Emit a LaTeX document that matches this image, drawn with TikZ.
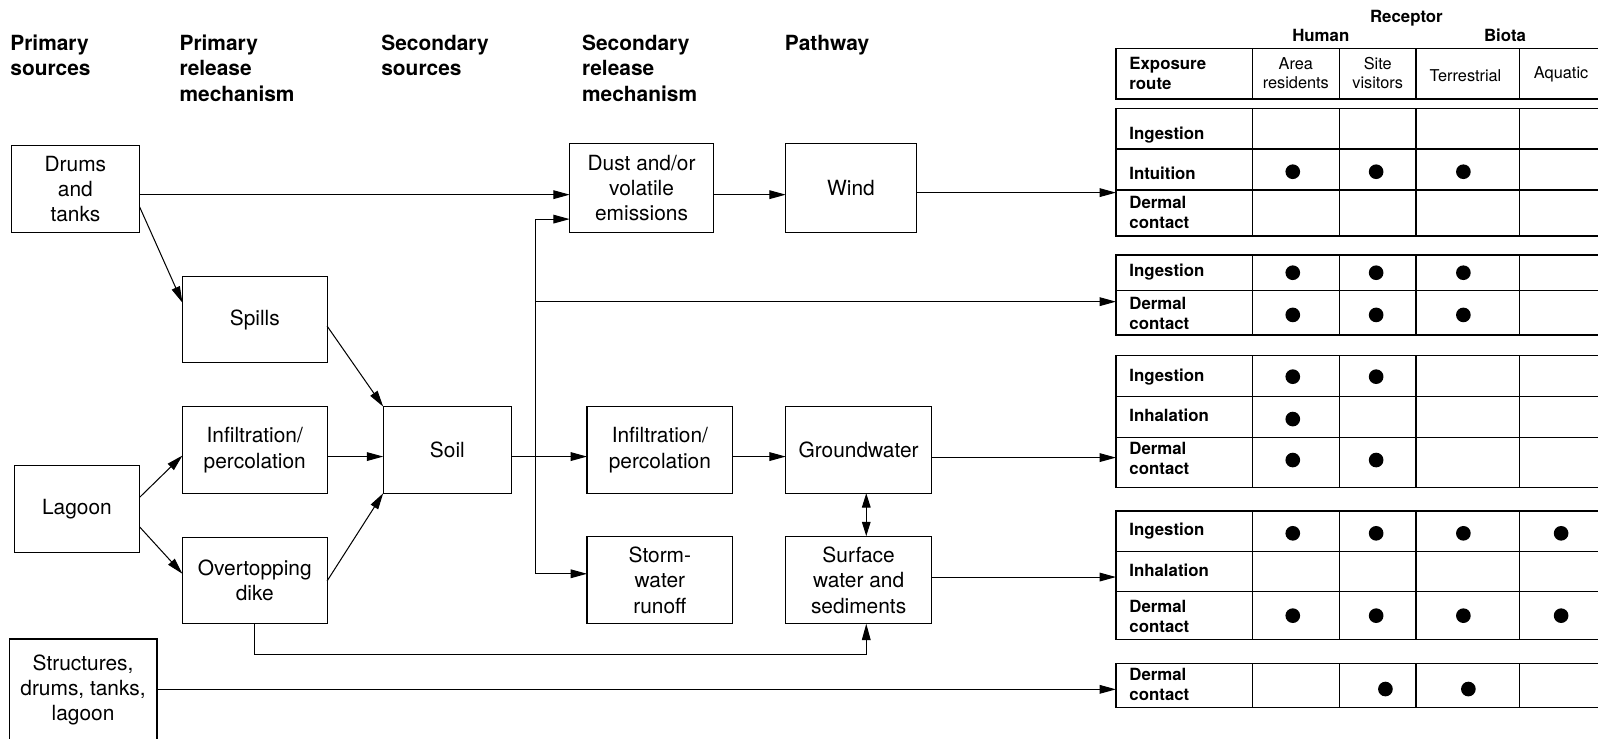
\documentclass[tikz,border=0pt]{standalone}
\usepackage{fontspec}
\setmainfont{TeX Gyre Heros}
\usetikzlibrary{arrows.meta}
\begin{document}
\begin{tikzpicture}[x=1pt,y=-1pt,
  box/.style={draw, line width=1.1pt, align=center, inner sep=0pt, outer sep=0pt,
    font=\fontsize{20.5}{25}\selectfont},
  head/.style={anchor=north west, align=left, inner sep=0pt,
    font=\fontsize{20.5}{25}\selectfont\bfseries},
  arr/.style={line width=1pt, -{Triangle[length=16pt,width=8.5pt]}},
  link/.style={line width=1pt},
  tbl/.style={draw, line width=1.1pt, inner sep=0pt, outer sep=0pt,
    anchor=north west, minimum width=495pt},
  grid/.style={line width=1.1pt},
  rlab/.style={anchor=west, align=left, inner sep=0pt,
    font=\fontsize{16.5}{19.5}\selectfont\bfseries},
  clab/.style={align=center, inner sep=0pt, font=\fontsize{16}{19}\selectfont},
  rechead/.style={inner sep=0pt, font=\fontsize{16.5}{19}\selectfont\bfseries},
]
\useasboundingbox (0,0) rectangle (1568,725);

% column headings
\node[head] (h1) at (10,34)  {Primary\\sources};
\node[head] (h2) at (176,34) {Primary\\release\\mechanism};
\node[head] (h3) at (374,34) {Secondary\\sources};
\node[head] (h4) at (571,34) {Secondary\\release\\mechanism};
\node[head] (h5) at (770,34) {Pathway};

% sources and mechanisms
\node[box, minimum width=126pt, minimum height=85pt] (drums)   at (74,185.5)   {Drums\\and\\tanks};
\node[box, minimum width=142pt, minimum height=85pt] (spills)  at (250,313.5)  {Spills};
\node[box, minimum width=142pt, minimum height=85pt] (infl)    at (250,441.5)  {Infiltration/\\percolation};
\node[box, minimum width=123pt, minimum height=85pt] (lagoon)  at (75.5,499.5) {Lagoon};
\node[box, minimum width=142pt, minimum height=85pt] (dike)    at (250,569.5)  {Overtopping\\dike};
\node[box, minimum width=145pt, minimum height=100pt] (struct) at (81.5,677)   {Structures,\\drums, tanks,\\lagoon};
\node[box, minimum width=126pt, minimum height=85pt] (soil)    at (439,441.5)  {Soil};
\node[box, minimum width=141pt, minimum height=87pt] (dust)    at (629.5,184.5) {Dust and/or\\volatile\\emissions};
\node[box, minimum width=128pt, minimum height=87pt] (wind)    at (835,184.5)  {Wind};
\node[box, minimum width=143pt, minimum height=85pt] (infr)    at (647.5,441.5) {Infiltration/\\percolation};
\node[box, minimum width=143pt, minimum height=85pt] (ground)  at (842.5,441.5) {Groundwater};
\node[box, minimum width=143pt, minimum height=86pt] (storm)   at (647.5,569)  {Storm-\\water\\runoff};
\node[box, minimum width=143pt, minimum height=86pt] (surface) at (842.5,569)  {Surface\\water and\\sediments};

% exposure tables
\node[rechead] (rec)   at (1380,18)     {Receptor};
\node[rechead] (human) at (1296,34.3)   {Human};
\node[rechead] (biota) at (1476.8,34.3) {Biota};

\node[tbl, minimum height=49.7pt]  (t0) at (1095,47.4)  {};
\node[tbl, minimum height=125.3pt] (t1) at (1095,106.3) {};
\node[tbl, minimum height=78.5pt]  (t2) at (1095,250.2) {};
\node[tbl, minimum height=129.2pt] (t3) at (1095,349)   {};
\node[tbl, minimum height=125.9pt] (t4) at (1095,501.4) {};
\node[tbl, minimum height=43.5pt]  (t5) at (1095,650.9) {};

\foreach \t in {t0,t1,t2,t3,t4,t5}
  \foreach \x in {1228.8,1314.2,1389.4,1490.8}
    \draw[grid] (\t.north -| \x,0) -- (\t.south -| \x,0);

\draw[grid] (t1.west |- 0,146.2) -- (t1.east |- 0,146.2);
\draw[grid] (t1.west |- 0,186.4) -- (t1.east |- 0,186.4);
\draw[grid] (t2.west |- 0,285.2) -- (t2.east |- 0,285.2);
\draw[grid] (t3.west |- 0,389.2) -- (t3.east |- 0,389.2);
\draw[grid] (t3.west |- 0,429.1) -- (t3.east |- 0,429.1);
\draw[grid] (t4.west |- 0,541.3) -- (t4.east |- 0,541.3);
\draw[grid] (t4.west |- 0,580)   -- (t4.east |- 0,580);

% header cells
\node[rlab] (c0) at (1108,72)     {Exposure\\route};
\node[clab] (c1) at (1271.5,71.6) {Area\\residents};
\node[clab] (c2) at (1351.8,71.6) {Site\\visitors};
\node[clab] (c3) at (1438,74.6)   {Terrestrial};
\node[clab] (c4) at (1531.8,72.6) {Aquatic};

% row labels
\node[rlab] (r11) at (1108,132.5) {Ingestion};
\node[rlab] (r12) at (1108,170)   {Intuition};
\node[rlab] (r13) at (1108,208.5) {Dermal\\contact};
\node[rlab] (r21) at (1108,266.6) {Ingestion};
\node[rlab] (r22) at (1108,307.8) {Dermal\\contact};
\node[rlab] (r31) at (1108,369.6) {Ingestion};
\node[rlab] (r32) at (1108,407.9) {Inhalation};
\node[rlab] (r33) at (1108,450.2) {Dermal\\contact};
\node[rlab] (r41) at (1108,520.7) {Ingestion};
\node[rlab] (r42) at (1108,560)   {Inhalation};
\node[rlab] (r43) at (1108,605.2) {Dermal\\contact};
\node[rlab] (r51) at (1108,671.8) {Dermal\\contact};

% exposure marks
\foreach \x/\y in {1268.5/168.5, 1350.3/168.5, 1435.9/168.5,
                   1268.5/267.6, 1350.3/267.6, 1435.9/267.6,
                   1268.5/309,   1350.3/309,   1435.9/309,
                   1268.5/369.6, 1350.3/369.6,
                   1268.5/411.2,
                   1268.5/451.4, 1350.3/451.4,
                   1268.5/523.3, 1350.3/523.3, 1435.9/523.3, 1531.8/523.3,
                   1268.5/604.1, 1350.3/604.1, 1435.9/604.1, 1531.8/604.1,
                   1359.4/676.1, 1440.8/676.1}
  \fill (\x,\y) circle[radius=7.2pt];

% connectors
\draw[arr] (drums.east |- 0,191) -- (dust.west |- 0,191);
\draw[arr] (drums.east |- 0,203) -- (spills.west |- 0,297);
\draw[arr] (spills.east |- 0,320) -- (soil.north west);
\draw[arr] (infl.east |- 0,448) -- (soil.west |- 0,448);
\draw[arr] (lagoon.east |- 0,488) -- (infl.west |- 0,447);
\draw[arr] (lagoon.east |- 0,517) -- (dike.west |- 0,563);
\draw[arr] (dike.east |- 0,570) -- (soil.south west);
\draw[arr] (soil.east |- 0,448) -- (infr.west |- 0,448);

\coordinate (trtop) at (525,215);
\coordinate (trmid) at (525,296);
\coordinate (trbot) at (525,563);
\draw[link] (trtop) -- (trbot);
\draw[arr] (trtop) -- (dust.west |- trtop);
\draw[arr] (trmid) -- (t2.west |- trmid);
\draw[arr] (trbot) -- (storm.west |- trbot);

\draw[arr] (dust.east |- 0,191) -- (wind.west |- 0,191);
\draw[arr] (wind.east |- 0,189) -- (t1.west |- 0,189);
\draw[arr] (infr.east |- 0,448) -- (ground.west |- 0,448);
\draw[arr] (ground.east |- 0,449) -- (t3.west |- 0,449);
\draw[line width=1pt, {Triangle[length=14pt,width=8.5pt]}-{Triangle[length=14pt,width=8.5pt]}]
  (ground.south -| 850,0) -- (surface.north -| 850,0);
\draw[arr] (surface.east |- 0,566.2) -- (t4.west |- 0,566.2);

\coordinate (dk) at (850,642);
\draw[arr] (dike.south) |- (dk) -- (surface.south -| dk);
\draw[arr] (struct.east |- 0,676.4) -- (t5.west |- 0,676.4);
\end{tikzpicture}
\end{document}
